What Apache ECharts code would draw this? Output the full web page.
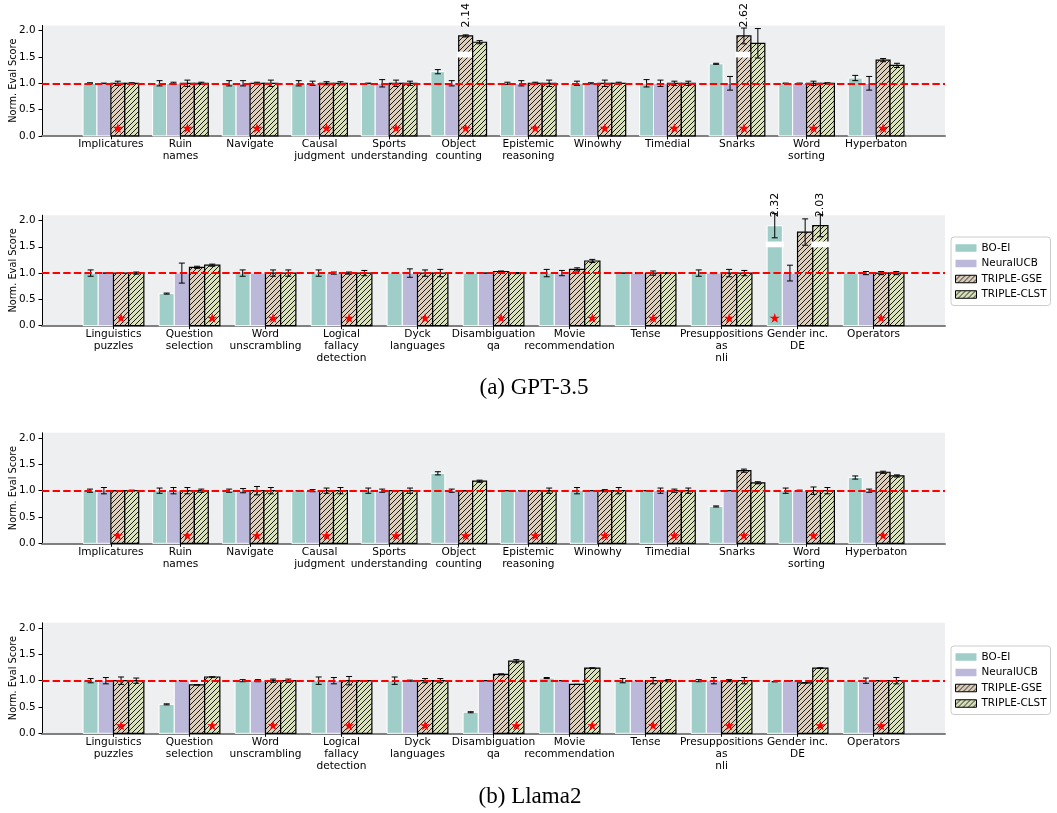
<!DOCTYPE html>
<html><head><meta charset="utf-8">
<script src="https://cdn.jsdelivr.net/npm/echarts@6/dist/echarts.min.js"></script>
<style>html,body{margin:0;padding:0;background:#fff}#c{width:1057px;height:813px}</style>
</head><body><div id="c"></div>
<script>
const methods = ['BO-EI', 'NeuralUCB', 'TRIPLE-GSE', 'TRIPLE-CLST'];
const tasksA = ['Implicatures', 'Ruin\nnames', 'Navigate', 'Causal\njudgment', 'Sports\nunderstanding', 'Object\ncounting', 'Epistemic\nreasoning', 'Winowhy', 'Timedial', 'Snarks', 'Word\nsorting', 'Hyperbaton'];
const tasksB = ['Linguistics\npuzzles', 'Question\nselection', 'Word\nunscrambling', 'Logical\nfallacy\ndetection', 'Dyck\nlanguages', 'Disambiguation\nqa', 'Movie\nrecommendation', 'Tense', 'Presuppositions\nas\nnli', 'Gender inc.\nDE', 'Operators'];
const yTicks = [0, 0.5, 1.0, 1.5, 2.0];

// (a) GPT-3.5, first row
const gptA_boei = [1.00, 1.00, 1.00, 1.00, 1.00, 1.22, 1.00, 1.00, 1.00, 1.37, 1.00, 1.10];
const gptA_boei_err = [0.01, 0.05, 0.05, 0.05, 0.00, 0.04, 0.02, 0.04, 0.07, 0.01, 0.00, 0.05];
const gptA_neural = [1.00, 1.00, 1.00, 1.00, 1.00, 1.00, 1.00, 1.00, 1.00, 1.00, 1.00, 1.00];
const gptA_neural_err = [0.00, 0.02, 0.05, 0.04, 0.07, 0.05, 0.05, 0.01, 0.06, 0.13, 0.00, 0.13];
const gptA_gse = [1.00, 1.00, 1.00, 1.00, 1.00, 2.14, 1.00, 1.00, 1.00, 2.62, 1.00, 1.44];
const gptA_gse_err = [0.04, 0.06, 0.02, 0.03, 0.06, 0.02, 0.02, 0.06, 0.04, 0.15, 0.04, 0.03];
const gptA_clst = [1.00, 1.00, 1.00, 1.00, 1.00, 1.78, 1.00, 1.00, 1.00, 1.76, 1.00, 1.34];
const gptA_clst_err = [0.01, 0.02, 0.06, 0.03, 0.04, 0.03, 0.06, 0.02, 0.04, 0.28, 0.01, 0.04];
const gptA_star = [2, 2, 2, 2, 2, 2, 2, 2, 2, 2, 2, 2];

// (a) GPT-3.5, second row
const gptB_boei = [1.00, 0.61, 1.00, 1.00, 1.00, 1.00, 1.00, 1.00, 1.00, 2.32, 1.00];
const gptB_boei_err = [0.06, 0.01, 0.06, 0.06, 0.00, 0.01, 0.07, 0.00, 0.06, 0.23, 0.00];
const gptB_neural = [1.00, 1.00, 1.00, 1.00, 1.00, 1.00, 1.00, 1.00, 1.00, 1.00, 1.00];
const gptB_neural_err = [0.00, 0.19, 0.00, 0.02, 0.08, 0.00, 0.05, 0.01, 0.01, 0.15, 0.03];
const gptB_gse = [1.00, 1.11, 1.00, 1.00, 1.00, 1.03, 1.07, 1.00, 1.00, 1.78, 1.00];
const gptB_gse_err = [0.00, 0.02, 0.06, 0.02, 0.06, 0.01, 0.03, 0.04, 0.07, 0.25, 0.03];
const gptB_clst = [1.00, 1.15, 1.00, 1.00, 1.00, 1.00, 1.23, 1.00, 1.00, 2.03, 1.00];
const gptB_clst_err = [0.02, 0.02, 0.06, 0.05, 0.07, 0.01, 0.03, 0.01, 0.05, 0.21, 0.03];
const gptB_star = [2, 3, 2, 2, 2, 2, 3, 2, 2, 0, 2];

// (b) Llama2, first row
const llamaA_boei = [1.00, 1.00, 1.00, 1.00, 1.00, 1.33, 1.00, 1.00, 1.00, 0.70, 1.00, 1.25];
const llamaA_boei_err = [0.03, 0.05, 0.03, 0.00, 0.05, 0.03, 0.00, 0.06, 0.00, 0.01, 0.05, 0.03];
const llamaA_neural = [1.00, 1.00, 1.00, 1.00, 1.00, 1.00, 1.00, 1.00, 1.00, 1.00, 1.00, 1.00];
const llamaA_neural_err = [0.06, 0.06, 0.04, 0.02, 0.03, 0.03, 0.00, 0.00, 0.05, 0.00, 0.01, 0.03];
const llamaA_gse = [1.00, 1.00, 1.00, 1.00, 1.00, 1.00, 1.00, 1.00, 1.00, 1.38, 1.00, 1.35];
const llamaA_gse_err = [0.00, 0.06, 0.08, 0.05, 0.00, 0.00, 0.00, 0.02, 0.03, 0.03, 0.07, 0.02];
const llamaA_clst = [1.00, 1.00, 1.00, 1.00, 1.00, 1.18, 1.00, 1.00, 1.00, 1.15, 1.00, 1.28];
const llamaA_clst_err = [0.01, 0.03, 0.06, 0.06, 0.05, 0.02, 0.05, 0.06, 0.05, 0.02, 0.06, 0.02];
const llamaA_star = [2, 2, 2, 2, 2, 2, 2, 2, 2, 2, 2, 2];

// (b) Llama2, second row
const llamaB_boei = [1.00, 0.55, 1.00, 1.00, 1.00, 0.40, 1.05, 1.00, 1.00, 0.98, 1.00];
const llamaB_boei_err = [0.04, 0.01, 0.02, 0.07, 0.07, 0.01, 0.01, 0.04, 0.02, 0.00, 0.00];
const llamaB_neural = [1.00, 1.00, 1.00, 1.00, 1.00, 1.00, 1.00, 1.00, 1.00, 1.00, 1.00];
const llamaB_neural_err = [0.06, 0.00, 0.02, 0.06, 0.01, 0.00, 0.00, 0.00, 0.06, 0.00, 0.05];
const llamaB_gse = [1.00, 0.92, 1.00, 1.00, 1.00, 1.12, 0.93, 1.00, 1.00, 0.96, 1.00];
const llamaB_gse_err = [0.07, 0.00, 0.03, 0.08, 0.04, 0.01, 0.00, 0.06, 0.02, 0.00, 0.00];
const llamaB_clst = [1.00, 1.07, 1.00, 1.00, 1.00, 1.37, 1.24, 1.00, 1.00, 1.24, 1.00];
const llamaB_clst_err = [0.05, 0.00, 0.03, 0.00, 0.04, 0.03, 0.00, 0.02, 0.06, 0.00, 0.06];
const llamaB_star = [2, 3, 2, 2, 2, 3, 3, 2, 2, 3, 2];

const captions = ['(a) GPT-3.5', '(b) Llama2'];

// ---- styling / layout ----
const FONT = '"DejaVu Sans", sans-serif';
const BAR_W = 0.2, CAP = 3, BREAK_SHOW = 1.9, BREAK_LO = 1.49, BREAK_HI = 1.60, LABEL_AT = 2.06, STAR_AT = 0.14, Y_MAX = 2.1;
const baseColors = ['#9fcdc8', '#bcb8da', '#ddcfbc', '#d9e2ba'];

function hatch(bg) {
  const T = 5, c = document.createElement('canvas');
  c.width = T; c.height = T;
  const x = c.getContext('2d');
  x.fillStyle = bg; x.fillRect(0, 0, T, T);
  x.strokeStyle = '#111'; x.lineWidth = 0.95;
  x.beginPath();
  x.moveTo(-1, T + 1); x.lineTo(T + 1, -1);
  x.moveTo(-1, 1); x.lineTo(1, -1);
  x.moveTo(T - 1, T + 1); x.lineTo(T + 1, T - 1);
  x.stroke();
  return { image: c, repeat: 'repeat' };
}
const fills = [baseColors[0], baseColors[1], hatch(baseColors[2]), hatch(baseColors[3])];

const panels = [
  { tasks: tasksA, vals: [gptA_boei, gptA_neural, gptA_gse, gptA_clst], errs: [gptA_boei_err, gptA_neural_err, gptA_gse_err, gptA_clst_err], star: gptA_star, top: 25.4, legend: false },
  { tasks: tasksB, vals: [gptB_boei, gptB_neural, gptB_gse, gptB_clst], errs: [gptB_boei_err, gptB_neural_err, gptB_gse_err, gptB_clst_err], star: gptB_star, top: 215.2, legend: 237 },
  { tasks: tasksA, vals: [llamaA_boei, llamaA_neural, llamaA_gse, llamaA_clst], errs: [llamaA_boei_err, llamaA_neural_err, llamaA_gse_err, llamaA_clst_err], star: llamaA_star, top: 432.8, legend: false },
  { tasks: tasksB, vals: [llamaB_boei, llamaB_neural, llamaB_gse, llamaB_clst], errs: [llamaB_boei_err, llamaB_neural_err, llamaB_gse_err, llamaB_clst_err], star: llamaB_star, top: 622.8, legend: 646 }
];

function starPoints(cx, cy, R) {
  const pts = [];
  for (let i = 0; i < 10; i++) {
    const a = -Math.PI / 2 + i * Math.PI / 5;
    const r = i % 2 === 0 ? R : R * 0.382;
    pts.push([cx + r * Math.cos(a), cy + r * Math.sin(a)]);
  }
  return pts;
}

function renderBar(params, api, k) {
  const g = api.value(0), v = api.value(1), e = api.value(2), st = api.value(3);
  const xc = g + (k - 1.5) * BAR_W;
  const broken = v > 2.0;
  const vd = broken ? BREAK_SHOW : v;
  const bl = api.coord([xc - BAR_W / 2, 0]);
  const tr = api.coord([xc + BAR_W / 2, vd]);
  const cx = api.coord([xc, 0])[0];
  const hatched = k >= 2;
  const ch = [];
  ch.push({ type: 'rect', shape: { x: bl[0], y: tr[1], width: tr[0] - bl[0], height: bl[1] - tr[1] },
    style: { fill: fills[k], stroke: hatched ? '#000' : '#fff', lineWidth: hatched ? 1.2 : 1 } });
  if (broken) {
    const a = api.coord([xc, BREAK_LO])[1], b = api.coord([xc, BREAK_HI])[1];
    ch.push({ type: 'rect', shape: { x: bl[0] - 1.5, y: b, width: tr[0] - bl[0] + 3, height: a - b }, style: { fill: '#fff' } });
  }
  const y1 = api.coord([xc, vd + e])[1], y0 = api.coord([xc, vd - e])[1];
  const es = { stroke: '#000', lineWidth: 1 };
  ch.push({ type: 'line', shape: { x1: cx, y1: y0, x2: cx, y2: y1 }, style: es });
  ch.push({ type: 'line', shape: { x1: cx - CAP, y1: y0, x2: cx + CAP, y2: y0 }, style: es });
  ch.push({ type: 'line', shape: { x1: cx - CAP, y1: y1, x2: cx + CAP, y2: y1 }, style: es });
  if (broken) {
    const ly = api.coord([xc, LABEL_AT])[1];
    ch.push({ type: 'text', x: cx, y: ly, rotation: Math.PI / 2,
      style: { text: v.toFixed(2), fill: '#000', font: '11px ' + FONT, align: 'left', verticalAlign: 'middle' } });
  }
  if (st) {
    const sp = api.coord([xc, STAR_AT]);
    ch.push({ type: 'polygon', shape: { points: starPoints(sp[0], sp[1], 5.4) }, style: { fill: '#ff0000' } });
  }
  return { type: 'group', children: ch };
}

const grids = [], xAxes = [], yAxes = [], series = [], legends = [];
panels.forEach((P, pi) => {
  const n = P.tasks.length;
  const span = (n + 0.4) - 0.6;
  const xmin = 0.6 - 0.05 * span, xmax = n + 0.4 + 0.05 * span;
  const pos = P.tasks.map((t, i) => i + 1);
  grids.push({ left: 42, top: P.top, width: 903, height: 110.5, show: true, backgroundColor: '#eeeff1', borderWidth: 0,
    containLabel: false, outerBoundsMode: 'none' });
  xAxes.push({ gridIndex: pi, type: 'value', min: xmin, max: xmax,
    axisLine: { show: true, lineStyle: { color: '#808080', width: 2 } },
    axisTick: { show: true, customValues: pos, length: 3.5, lineStyle: { color: '#000', width: 1 } },
    axisLabel: { customValues: pos, formatter: v => P.tasks[Math.round(v) - 1], fontSize: 10.6, lineHeight: 12.2, color: '#000', fontFamily: FONT, margin: 2.5 },
    splitLine: { show: false } });
  yAxes.push({ gridIndex: pi, type: 'value', min: 0, max: Y_MAX,
    axisLine: { show: true, lineStyle: { color: '#000', width: 1 } },
    axisTick: { show: true, customValues: yTicks, length: 3.5, lineStyle: { color: '#000' } },
    axisLabel: { customValues: yTicks, formatter: v => v.toFixed(1), fontSize: 10.4, color: '#000', fontFamily: FONT, margin: 6.5 },
    splitLine: { show: false },
    name: 'Norm. Eval Score', nameLocation: 'middle', nameGap: 24, nameMoveOverlap: false,
    nameTextStyle: { fontSize: 9.8, color: '#000', fontFamily: FONT } });
  methods.forEach((m, k) => {
    series.push({ type: 'custom', name: m, xAxisIndex: pi, yAxisIndex: pi, z: 2, silent: true,
      itemStyle: { color: fills[k] },
      data: P.tasks.map((t, i) => [i + 1, P.vals[k][i], P.errs[k][i], P.star[i] === k ? 1 : 0]),
      encode: { x: 0, y: 1 },
      renderItem: (params, api) => renderBar(params, api, k) });
  });
  series.push({ type: 'line', name: 'ref' + pi, xAxisIndex: pi, yAxisIndex: pi, data: [], z: 6, silent: true,
    markLine: { silent: true, symbol: 'none', label: { show: false }, animation: false,
      lineStyle: { color: '#ff0000', type: [7.4, 3.2], width: 2 }, data: [{ yAxis: 1 }] } });
  if (P.legend) {
    legends.push({ orient: 'vertical', left: 951, top: P.legend, selectedMode: false,
      itemWidth: 21, itemHeight: 7.5, itemGap: 3.5, padding: [5, 4, 5, 4],
      borderColor: '#cccccc', borderWidth: 1, borderRadius: 3, backgroundColor: '#ffffff',
      textStyle: { fontSize: 10.4, color: '#000', fontFamily: FONT, lineHeight: 12 },
      data: methods.map((m, k) => ({ name: m, icon: 'rect',
        itemStyle: k >= 2 ? { color: fills[k], borderColor: '#000', borderWidth: 1 } : { color: fills[k], borderWidth: 0 } })) });
  }
});

const chart = echarts.init(document.getElementById('c'), null, { renderer: 'canvas' });
chart.setOption({
  animation: false,
  backgroundColor: '#ffffff',
  grid: grids, xAxis: xAxes, yAxis: yAxes, series: series, legend: legends,
  graphic: [
    { type: 'text', x: 534, y: 388, style: { text: captions[0], font: '23px "Liberation Serif", "Times New Roman", serif', fill: '#000', align: 'center', verticalAlign: 'middle' } },
    { type: 'text', x: 530, y: 797, style: { text: captions[1], font: '23px "Liberation Serif", "Times New Roman", serif', fill: '#000', align: 'center', verticalAlign: 'middle' } }
  ]
});
</script></body></html>
